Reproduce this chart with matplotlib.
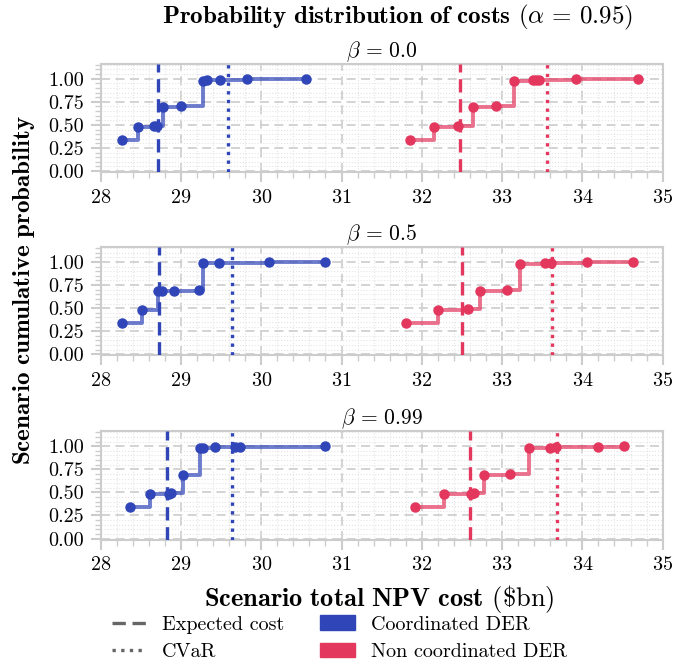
import numpy as np
import matplotlib.pyplot as plt
from matplotlib.lines import Line2D
from matplotlib.patches import Patch
from matplotlib.ticker import MultipleLocator

plt.rcParams['font.family'] = 'serif'
plt.rcParams['font.serif'] = ['cmr10']
plt.rcParams['mathtext.fontset'] = 'cm'
plt.rcParams['axes.unicode_minus'] = False
plt.rcParams['axes.formatter.use_mathtext'] = True

# 각 패널의 베타 값
betas = ["0.0", "0.5", "0.99"]

# 협조 DER 시나리오 비용 (누적확률)
coord_cost = [
    [28.26, 28.46, 28.67, 28.70, 28.78, 29.00, 29.28, 29.32, 29.49, 29.82, 30.56],
    [28.27, 28.52, 28.72, 28.76, 28.91, 29.22, 29.28, 29.48, 30.10, 30.80],
    [28.37, 28.62, 28.85, 28.87, 29.02, 29.24, 29.27, 29.42, 29.67, 29.73, 30.80],
]
coord_prob = [
    [0.34, 0.48, 0.485, 0.49, 0.69, 0.70, 0.98, 0.985, 0.99, 0.995, 1.0],
    [0.34, 0.485, 0.69, 0.69, 0.69, 0.70, 0.985, 0.99, 0.995, 1.0],
    [0.34, 0.48, 0.485, 0.49, 0.69, 0.98, 0.985, 0.99, 0.995, 0.997, 1.0],
]
coord_exp = [28.72, 28.73, 28.82]
coord_cvar = [29.59, 29.64, 29.64]

# 비협조 DER
nc_cost = [
    [31.85, 32.15, 32.45, 32.64, 32.92, 33.15, 33.38, 33.42, 33.46, 33.92, 34.69],
    [31.80, 32.20, 32.57, 32.72, 33.06, 33.22, 33.53, 33.61, 34.06, 34.63],
    [31.91, 32.28, 32.61, 32.65, 32.78, 33.10, 33.34, 33.60, 33.67, 34.19, 34.52],
]
nc_prob = [
    [0.34, 0.48, 0.485, 0.69, 0.70, 0.98, 0.99, 0.99, 0.99, 0.995, 1.0],
    [0.34, 0.485, 0.49, 0.69, 0.70, 0.98, 0.985, 0.99, 0.995, 1.0],
    [0.34, 0.48, 0.485, 0.49, 0.69, 0.70, 0.98, 0.985, 0.99, 0.995, 1.0],
]
nc_exp = [32.47, 32.50, 32.60]
nc_cvar = [33.56, 33.62, 33.68]

blue = '#2f45b8'
red = '#e3375e'
gray = '#cccccc'

fig = plt.figure(figsize=(6.73, 6.64), dpi=100)
lefts = 0.1496
width = 0.835
bottoms = [0.741, 0.465, 0.1875]
h = 0.1627

for i in range(3):
    ax = fig.add_axes([lefts, bottoms[i], width, h])
    for cost, prob, ex, cv, c in [(coord_cost[i], coord_prob[i], coord_exp[i], coord_cvar[i], blue),
                                  (nc_cost[i], nc_prob[i], nc_exp[i], nc_cvar[i], red)]:
        ax.step(cost, prob, where='post', color=c, lw=2.8, alpha=0.7, zorder=3)
        ax.plot(cost, prob, 'o', color=c, ms=6.5, zorder=4)
        ax.axvline(ex, color=c, ls=(0, (4, 2)), lw=2.4, zorder=5)
        ax.axvline(cv, color=c, ls=(0, (1, 1.6)), lw=2.4, zorder=5)

    ax.set_xlim(28, 35)
    ax.set_ylim(-0.01, 1.16)
    ax.set_yticks([0, 0.25, 0.5, 0.75, 1.0])
    ax.set_yticklabels(['0.00', '0.25', '0.50', '0.75', '1.00'])
    ax.xaxis.set_minor_locator(MultipleLocator(0.2))
    ax.yaxis.set_minor_locator(MultipleLocator(0.05))
    ax.grid(True, which='major', color='#d0d0d0', ls=(0, (5, 3)), lw=1.3)
    ax.grid(True, which='minor', color='#e4e4e4', ls=':', lw=0.8)
    ax.set_axisbelow(True)
    ax.tick_params(which='major', direction='out', length=7, width=1.5, color=gray,
                   labelsize=14.5, pad=5)
    ax.tick_params(which='minor', direction='out', length=4, width=1.0, color=gray)
    for s in ax.spines.values():
        s.set_color(gray)
        s.set_linewidth(1.5)
    ax.set_title(r'$\beta \,=\, ' + betas[i] + '$', fontsize=15.5, pad=5)

fig.text(0.59, 0.973, r'$\mathbf{Probability\ distribution\ of\ costs}$ ($\alpha \,=\, 0.95$)',
         ha='center', va='center', fontsize=18)
fig.text(0.036, 0.563, r'$\mathbf{Scenario\ cumulative\ probability}$', rotation=90,
         ha='center', va='center', fontsize=18)
fig.text(0.563, 0.098, r'$\mathbf{Scenario\ total\ NPV\ cost}$ (\$bn)',
         ha='center', va='center', fontsize=19)

handles = [Line2D([0], [0], color='#666666', ls=(0, (4, 2)), lw=2.4),
           Line2D([0], [0], color='#666666', ls=(0, (1, 1.6)), lw=2.4),
           Patch(color=blue), Patch(color=red)]
labels = ['Expected cost', 'CVaR', 'Coordinated DER', 'Non coordinated DER']
fig.legend(handles, labels, ncol=2, loc='center', bbox_to_anchor=(0.504, 0.039),
           frameon=False, fontsize=14.5, handlelength=1.7, handletextpad=0.8,
           columnspacing=1.8, labelspacing=0.45)

fig.savefig('out.png', dpi=100)
